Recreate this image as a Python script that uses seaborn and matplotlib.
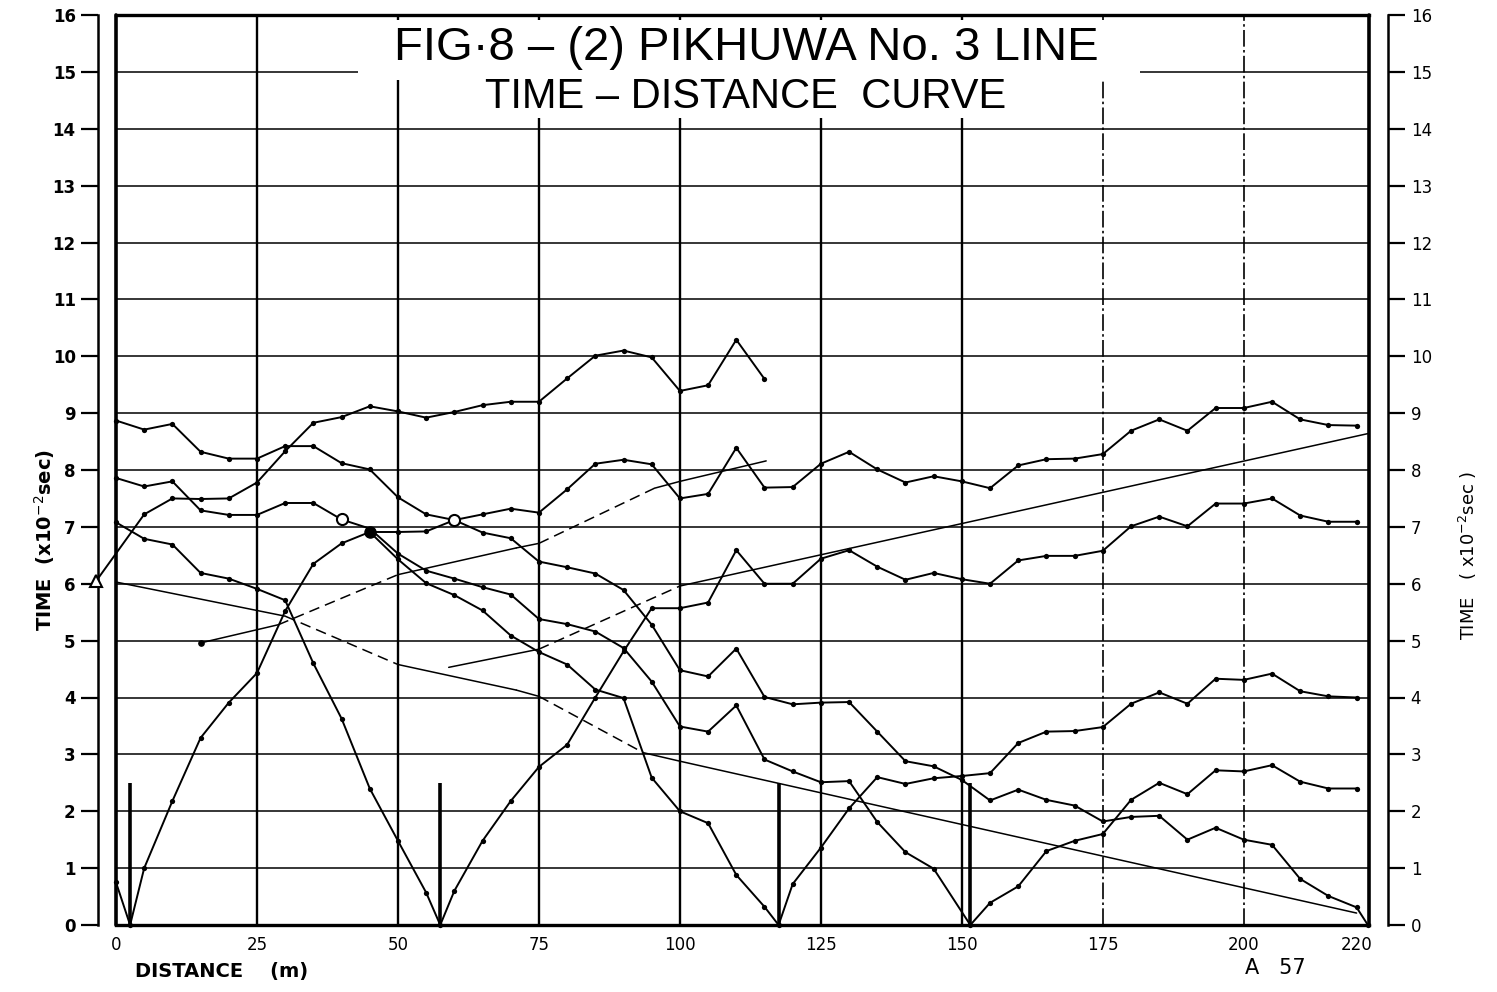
import matplotlib
matplotlib.use('Agg')
import matplotlib.pyplot as plt
from matplotlib.patches import Rectangle
import pandas as pd
import seaborn as sns

# stations along the line (m), 5 m spacing
stations = [0, 5, 10, 15, 20, 25, 30, 35, 40, 45, 50, 55, 60, 65, 70, 75, 80, 85,
            90, 95, 100, 105, 110, 115, 120, 125, 130, 135, 140, 145, 150, 155,
            160, 165, 170, 175, 180, 185, 190, 195, 200, 205, 210, 215, 220]

# shot points and their marks
shot_x = [2.5, 57.5, 117.5, 151.5]
shot_mark_t = [2.5, 2.5, 2.5, 2.5]

# first arrival times (x10^-2 sec)
c2_x = [0, 2.5] + stations[1:]
c2_t = [0.75, 0, 1.0, 2.18, 3.29, 3.91, 4.43, 5.52, 6.35, 6.71, 6.91, 6.91, 6.92,
        7.12, 7.22, 7.32, 7.25, 7.66, 8.11, 8.18, 8.1, 7.5, 7.58, 8.39, 7.69, 7.7,
        8.11, 8.32, 8.01, 7.78, 7.89, 7.8, 7.68, 8.08, 8.19, 8.2, 8.28, 8.69, 8.89,
        8.69, 9.09, 9.09, 9.2, 8.89, 8.79, 8.78]

c58_x = stations[:12] + [57.5] + stations[12:]
c58_t = [7.08, 6.79, 6.69, 6.19, 6.09, 5.91, 5.71, 4.6, 3.63, 2.4, 1.48, 0.57, 0,
         0.6, 1.48, 2.18, 2.78, 3.17, 4.0, 4.81, 5.57, 5.57, 5.67, 6.59, 6.0, 6.0,
         6.44, 6.59, 6.3, 6.07, 6.19, 6.08, 6.0, 6.41, 6.49, 6.49, 6.58, 7.01, 7.18,
         7.01, 7.41, 7.41, 7.5, 7.2, 7.09, 7.09]

c118_x = stations[9:24] + [117.5] + stations[24:]
c118_t = [6.91, 6.43, 6.01, 5.8, 5.53, 5.09, 4.8, 4.58, 4.14, 3.99, 2.59, 2.0, 1.79,
          0.88, 0.32, 0, 0.72, 1.36, 2.05, 2.6, 2.48, 2.58, 2.62, 2.67, 3.2, 3.4,
          3.41, 3.48, 3.89, 4.09, 3.89, 4.33, 4.31, 4.42, 4.11, 4.02, 4.0]

c152_x = stations[:30] + [151.5] + stations[31:]
c152_t = [7.86, 7.71, 7.8, 7.29, 7.21, 7.21, 7.42, 7.42, 7.13, 6.97, 6.53, 6.23,
          6.09, 5.94, 5.81, 5.38, 5.29, 5.16, 4.87, 4.28, 3.49, 3.4, 3.86, 2.91, 2.7,
          2.51, 2.53, 1.81, 1.28, 0.99, 0, 0.39, 0.68, 1.3, 1.48, 1.6, 2.2, 2.5, 2.3,
          2.72, 2.7, 2.81, 2.52, 2.4, 2.4]

c222_x = stations + [222]
c222_t = [8.87, 8.71, 8.81, 8.32, 8.2, 8.2, 8.42, 8.42, 8.12, 8.01, 7.52, 7.22, 7.12,
          6.9, 6.8, 6.39, 6.29, 6.18, 5.89, 5.28, 4.48, 4.37, 4.86, 4.01, 3.88, 3.91,
          3.92, 3.4, 2.88, 2.79, 2.55, 2.19, 2.38, 2.2, 2.1, 1.82, 1.9, 1.92, 1.5,
          1.71, 1.5, 1.41, 0.81, 0.51, 0.31, 0]

ctop_x = [-3.5] + stations[1:24]
ctop_t = [6.05, 7.22, 7.5, 7.49, 7.5, 7.78, 8.33, 8.83, 8.93, 9.12, 9.03, 8.92, 9.02,
          9.14, 9.2, 9.2, 9.61, 10.01, 10.1, 9.98, 9.39, 9.49, 10.29, 9.6]

# straight construction lines
d1_x = [0, 30, 50, 71, 75, 93.5, 100, 220]
d1_t = [6.03, 5.43, 4.58, 4.13, 4.02, 3.03, 2.88, 0.21]
d2_x = [15, 28.8, 50, 71, 75, 95.5, 100, 115.3]
d2_t = [4.96, 5.28, 6.16, 6.63, 6.71, 7.68, 7.8, 8.16]
d3_x = [59, 75, 100, 222]
d3_t = [4.53, 4.85, 5.96, 8.64]

# special points
ring_x = [40, 60]
ring_t = [7.13, 7.12]
knot_x = [45]
knot_t = [6.91]

curves = {
    'shot 2.5': (c2_x, c2_t),
    'shot 57.5': (c58_x, c58_t),
    'shot 117.5': (c118_x, c118_t),
    'shot 151.5': (c152_x, c152_t),
    'shot 222': (c222_x, c222_t),
    'top': (ctop_x, ctop_t),
}
df = pd.concat([pd.DataFrame({'distance': x, 'time': t, 'curve': k})
                for k, (x, t) in curves.items()], ignore_index=True)

sns.set_theme(style='white', rc={'axes.edgecolor': 'black', 'text.color': 'black',
                                 'xtick.color': 'black', 'ytick.color': 'black',
                                 'axes.labelcolor': 'black'})
plt.rcParams['font.family'] = ['DejaVu Sans']

fig = plt.figure(figsize=(14.97, 9.92), dpi=100)
ax = fig.add_axes([116 / 1497, 67 / 992, 1253 / 1497, 910 / 992])
ax.set_xlim(0, 222.2)
ax.set_ylim(0, 16)

# grid
for y in range(1, 16):
    ax.axhline(y, color='black', lw=1.1, zorder=1)
for x in [25, 50, 75, 100, 125, 150]:
    ax.axvline(x, color='black', lw=1.7, zorder=1)
for x in [175, 200]:
    ax.axvline(x, color='black', lw=1.2, ls=(0, (10, 2, 1.5, 2)), zorder=1)

# inner frame
ax.axvline(0, color='black', lw=2.6, clip_on=False, zorder=2)
ax.axvline(222.2, color='black', lw=2.6, clip_on=False, zorder=2)
for s in ['top', 'bottom']:
    ax.spines[s].set_linewidth(2.4)
ax.spines['left'].set_position(('outward', 13))
ax.spines['right'].set_position(('outward', 14))
ax.spines['left'].set_linewidth(1.8)
ax.spines['right'].set_linewidth(1.8)

# travel time curves
sns.lineplot(data=df, x='distance', y='time', units='curve', estimator=None,
             sort=False, color='black', linewidth=1.4, marker='o', markersize=3.8,
             markeredgewidth=0, legend=False, ax=ax, clip_on=False, zorder=4)

# construction lines, steep parts dashed
seg_styles = {
    'd1': ['-', '--', '-', '-', '--', '-', '-'],
    'd2': ['-', '--', '-', '-', '--', '-', '-'],
    'd3': ['-', '--', '-'],
}
for key, (lx, lt) in {'d1': (d1_x, d1_t), 'd2': (d2_x, d2_t), 'd3': (d3_x, d3_t)}.items():
    for i, st in enumerate(seg_styles[key]):
        ax.plot(lx[i:i + 2], lt[i:i + 2], color='black', lw=1.1, ls=st,
                dashes=(7, 4) if st == '--' else (None, None), zorder=3)

ax.plot(d2_x[:1], d2_t[:1], 'o', color='black', ms=3.8, zorder=4)
ax.plot(ring_x, ring_t, 'o', mfc='white', mec='black', mew=1.5, ms=8, zorder=5)
ax.plot(knot_x, knot_t, 'o', color='black', ms=8, zorder=5)
ax.plot(ctop_x[:1], ctop_t[:1], '^', mfc='white', mec='black', mew=1.5, ms=8,
        clip_on=False, zorder=5)

# shot point marks
ax.vlines(shot_x, 0, shot_mark_t, color='black', lw=2.6, zorder=4)

# ticks
ax.set_xticks([0, 25, 50, 75, 100, 125, 150, 175, 200, 220])
ax.set_yticks(range(17))
ax.tick_params(axis='x', length=0, pad=8, labelsize=12)
ax.tick_params(axis='y', which='major', direction='out', left=True, right=True,
               labelleft=True, labelright=True, length=12, width=1.6, pad=4,
               labelsize=12)
for t in ax.yaxis.get_major_ticks():
    t.label1.set_fontweight('bold')
ax.set_xlabel('')
ax.set_ylabel('')

# title with its white band over the grid
fig.add_artist(Rectangle((358 / 1497, 1 - 80 / 992), 782 / 1497, 60 / 992,
                         transform=fig.transFigure, fc='white', ec='none', zorder=3))
fig.add_artist(Rectangle((470 / 1497, 1 - 118 / 992), 550 / 1497, 40 / 992,
                         transform=fig.transFigure, fc='white', ec='none', zorder=3))
fig.text(746 / 1497, 1 - 48 / 992, 'FIG·8 – (2) PIKHUWA No. 3 LINE', ha='center',
         va='center', fontsize=34, family=['Liberation Sans', 'DejaVu Sans'],
         zorder=4)
fig.text(746 / 1497, 1 - 97 / 992, 'TIME – DISTANCE  CURVE', ha='center',
         va='center', fontsize=30, family=['Liberation Sans', 'DejaVu Sans'],
         zorder=4)

# axis labels
fig.text(45 / 1497, 1 - 540 / 992, 'TIME  (x10$^{-2}$sec)', rotation=90, ha='center',
         va='center', fontsize=14, fontweight='bold')
fig.text(1468 / 1497, 1 - 555 / 992, 'TIME   ( x10$^{-2}$sec )', rotation=90,
         ha='center', va='center', fontsize=13)
fig.text(135 / 1497, 1 - 972 / 992, 'DISTANCE    (m)', ha='left', va='center',
         fontsize=14, fontweight='bold')
fig.text(1245 / 1497, 1 - 978 / 992, 'A   57', ha='left', va='bottom', fontsize=15)

fig.savefig('out.png', dpi=100, facecolor='white')
